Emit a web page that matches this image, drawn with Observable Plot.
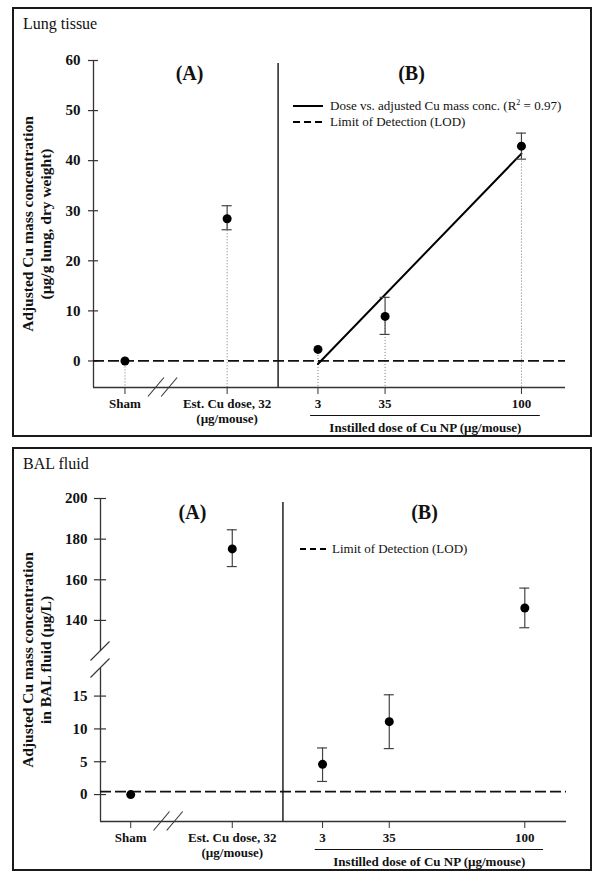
<!DOCTYPE html>
<html><head><meta charset="utf-8">
<script src="https://cdn.jsdelivr.net/npm/d3@7"></script>
<script src="https://cdn.jsdelivr.net/npm/@observablehq/plot@0.6"></script>
<style>
body{margin:0;background:#fff;width:600px;height:882px;position:relative;overflow:hidden;font-family:"Liberation Serif","Times New Roman",serif;}
.panel{position:absolute;left:12px;width:580px;box-sizing:border-box;border:2px solid #1a1a1a;}
.ptitle{position:absolute;font-size:16px;color:#111;line-height:1;}
.chart{position:absolute;left:0;}
.legend{position:absolute;font-size:13px;color:#111;display:flex;align-items:center;white-space:nowrap;height:16px;}
.legend sup{font-size:8px;line-height:0;vertical-align:5px;}
</style></head><body>
<div class="panel" style="top:7px;height:430px"></div>
<div class="panel" style="top:447px;height:424px"></div>
<div class="ptitle" style="left:23px;top:16px">Lung tissue</div>
<div class="ptitle" style="left:23px;top:456px">BAL fluid</div>
<div id="c1" class="chart" style="top:0"></div>
<div id="c2" class="chart" style="top:440px"></div>
<div class="legend" style="left:293px;top:98px"><svg width="30" height="16"><line x1="0" x2="30" y1="8" y2="8" stroke="#000" stroke-width="2"/></svg><span style="margin-left:7px">Dose vs. adjusted Cu mass conc. (R<sup>2</sup> = 0.97)</span></div>
<div class="legend" style="left:293px;top:114px"><svg width="30" height="16"><line x1="0" x2="30" y1="8" y2="8" stroke="#000" stroke-width="1.8" stroke-dasharray="7,4"/></svg><span style="margin-left:7px">Limit of Detection (LOD)</span></div>
<div class="legend" style="left:300px;top:541px"><svg width="27" height="16"><line x1="0" x2="27" y1="8" y2="8" stroke="#000" stroke-width="1.8" stroke-dasharray="6,4"/></svg><span style="margin-left:5px">Limit of Detection (LOD)</span></div>
<script>
// ---------- data ----------
const groupALabels = ["Sham", "Est. Cu dose, 32\n(µg/mouse)"];
const doses = [3, 35, 100];
const panelLabels = ["(A)", "(B)"];
const xTitle = "Instilled dose of Cu NP (µg/mouse)";

// Lung tissue
const lungTitleY = "Adjusted Cu mass concentration\n(µg/g lung, dry weight)";
const lungA = [0, 28.4];
const lungALo = [null, 26.2];
const lungAHi = [null, 31.0];
const lungB = [2.3, 8.9, 42.9];
const lungBLo = [null, 5.3, 40.3];
const lungBHi = [null, 12.7, 45.5];
const lungFitDose = [3, 100];
const lungFitValue = [-0.6, 41.4];
const lungLOD = 0;
const lungYTicks = [0, 10, 20, 30, 40, 50, 60];

// BAL fluid
const balTitleY = "Adjusted Cu mass concentration\nin BAL fluid (µg/L)";
const balA = [0, 175.2];
const balALo = [null, 166.5];
const balAHi = [null, 184.6];
const balB = [4.6, 11.1, 146.1];
const balBLo = [2.0, 7.0, 136.4];
const balBHi = [7.1, 15.2, 155.9];
const balLOD = 0.45;
const balYTicks = [0, 5, 10, 15, 140, 160, 180, 200];

// ---------- layout (x positions of group A on the shared dose axis) ----------
const groupAPos = [-89, -40.3];
const sepPos = -16;
const breakXPos = [-74, -67.7];

const FONT = '"Liberation Serif","Times New Roman",serif';

function build(A, ALo, AHi, B, BLo, BHi) {
  const pts = [];
  A.forEach((v, i) => pts.push({pos: groupAPos[i], v, lo: ALo[i], hi: AHi[i]}));
  B.forEach((v, i) => pts.push({pos: doses[i], v, lo: BLo[i], hi: BHi[i]}));
  return pts;
}
const tickPos = [...groupAPos, ...doses];
const tickLab = new Map([...groupAPos.map((p, i) => [p, groupALabels[i]]), ...doses.map(d => [d, String(d)])]);

function slash(svg, list, hw, hh) {
  const sx = svg.scale("x"), sy = svg.scale("y");
  const g = d3.select(svg).append("g").attr("stroke", "#333").attr("stroke-width", 1.1).attr("fill", "none");
  for (const [x, y] of list) {
    const cx = sx.apply(x), cy = sy.apply(y);
    g.append("line").attr("x1", cx - hw).attr("y1", cy + hh).attr("x2", cx + hw).attr("y2", cy - hh);
  }
}

function chart({pts, fit, lod, yScale, yTicks, yMin, yMax, xDomain, marginLeft, marginRight, marginTop, marginBottom, tickHalf, capHalf, dropLines, yTitle, titleDx, labelPos, labelY, sepTop, axisSegments}) {
  const xMin = xDomain[0], xMax = xDomain[1];
  const withErr = pts.filter(d => d.lo != null);
  const marks = [];
  if (dropLines) marks.push(Plot.ruleX(pts, {x: "pos", y1: d => d.v, y2: yMin, stroke: "#777", strokeWidth: 1, strokeDasharray: "1,2"}));
  for (const [a, b] of axisSegments) marks.push(Plot.ruleX([xMin], {y1: a, y2: b, stroke: "#333", strokeWidth: 1.3}));
  marks.push(
    Plot.ruleY([yMin], {x1: xMin, x2: xMax, stroke: "#333", strokeWidth: 1.3}),
    Plot.ruleY(yTicks, {y: d => d, x1: xMin - tickHalf, x2: xMin + tickHalf, stroke: "#333", strokeWidth: 1.2}),
    Plot.ruleX([sepPos], {y1: yMin, y2: sepTop, stroke: "#222", strokeWidth: 1.5}),
    Plot.ruleY([lod], {x1: xMin, x2: xMax, stroke: "#111", strokeWidth: 1.8, strokeDasharray: "11,4"})
  );
  if (fit) marks.push(Plot.line(fit, {x: "x", y: "y", stroke: "#000", strokeWidth: 2}));
  marks.push(
    Plot.ruleX(withErr, {x: "pos", y1: "lo", y2: "hi", stroke: "#444", strokeWidth: 1.2}),
    Plot.ruleY(withErr, {y: "hi", x1: d => d.pos - capHalf, x2: d => d.pos + capHalf, stroke: "#444", strokeWidth: 1.2}),
    Plot.ruleY(withErr, {y: "lo", x1: d => d.pos - capHalf, x2: d => d.pos + capHalf, stroke: "#444", strokeWidth: 1.2}),
    Plot.dot(pts, {x: "pos", y: "v", r: 4.5, fill: "#000", stroke: "none"}),
    Plot.axisY({ticks: yTicks, tickSize: 0, tickPadding: 13, fontSize: 15, fontWeight: "bold", label: null, tickFormat: d => String(d)}),
    Plot.axisX({ticks: tickPos, tickFormat: d => tickLab.get(d), tickSize: 7, tickPadding: 3, fontSize: 13, fontWeight: "bold", lineHeight: 1.15, label: null, stroke: "#333"}),
    Plot.ruleY([yMin], {x1: -0.5, x2: 109, dy: 28, stroke: "#111", strokeWidth: 1}),
    Plot.text([xTitle], {x: 54.2, frameAnchor: "bottom", dy: 40, text: d => d, fontSize: 13, fontWeight: "bold", lineAnchor: "middle", textAnchor: "middle"}),
    Plot.text(panelLabels, {x: (d, i) => labelPos[i], y: labelY, text: d => d, fontSize: 20, fontWeight: "bold", lineAnchor: "middle", textAnchor: "middle"}),
    Plot.text([yTitle], {frameAnchor: "left", rotate: -90, dx: titleDx, text: d => d, fontSize: 15.5, fontWeight: "bold", lineHeight: 1.16, lineAnchor: "middle", textAnchor: "middle"})
  );
  return Plot.plot({
    width: 600, height: 440,
    marginLeft, marginRight, marginTop, marginBottom,
    style: {fontFamily: FONT, fontSize: "15px", fontWeight: "bold", color: "#111", background: "transparent", overflow: "visible"},
    x: {domain: xDomain},
    y: yScale,
    marks
  });
}

// ---------- Lung tissue ----------
const lungPts = build(lungA, lungALo, lungAHi, lungB, lungBLo, lungBHi);
const lungFit = lungFitDose.map((x, i) => ({x, y: lungFitValue[i]}));
const svg1 = chart({
  pts: lungPts, fit: lungFit, lod: lungLOD,
  yScale: {domain: [-5.3, 60]}, yTicks: lungYTicks, yMin: -5.3, yMax: 60,
  xDomain: [-104, 121], marginLeft: 93, marginRight: 35, marginTop: 60, marginBottom: 53,
  tickHalf: 2.4, capHalf: 2.4, dropLines: true,
  yTitle: lungTitleY, titleDx: -57, labelPos: [-58.2, 47.6], labelY: 57.4, sepTop: 59.4,
  axisSegments: [[-5.3, 60]]
});
document.getElementById("c1").appendChild(svg1);
slash(svg1, breakXPos.map(x => [x, -5.3]), 8, 9.5);

// ---------- BAL fluid ----------
const balPts = build(balA, balALo, balAHi, balB, balBLo, balBHi);
const balY = {type: "linear", domain: [-4.1, 19.2, 124.7, 200], range: [381, 228, 211, 58]};
const svg2 = chart({
  pts: balPts, fit: null, lod: balLOD,
  yScale: balY, yTicks: balYTicks, yMin: -4.1, yMax: 200,
  xDomain: [-103.5, 120], marginLeft: 100, marginRight: 34, marginTop: 58, marginBottom: 59,
  tickHalf: 2.9, capHalf: 2.4, dropLines: false,
  yTitle: balTitleY, titleDx: -64, labelPos: [-59.4, 51.9], labelY: 193.1, sepTop: 198,
  axisSegments: [[-4.1, 19.2], [124.7, 200]]
});
document.getElementById("c2").appendChild(svg2);
slash(svg2, breakXPos.map(x => [x, -4.1]), 8, 9.5);
slash(svg2, [[-103.5, 19.2], [-103.5, 124.7]], 9.5, 9.5);
</script>
</body></html>
